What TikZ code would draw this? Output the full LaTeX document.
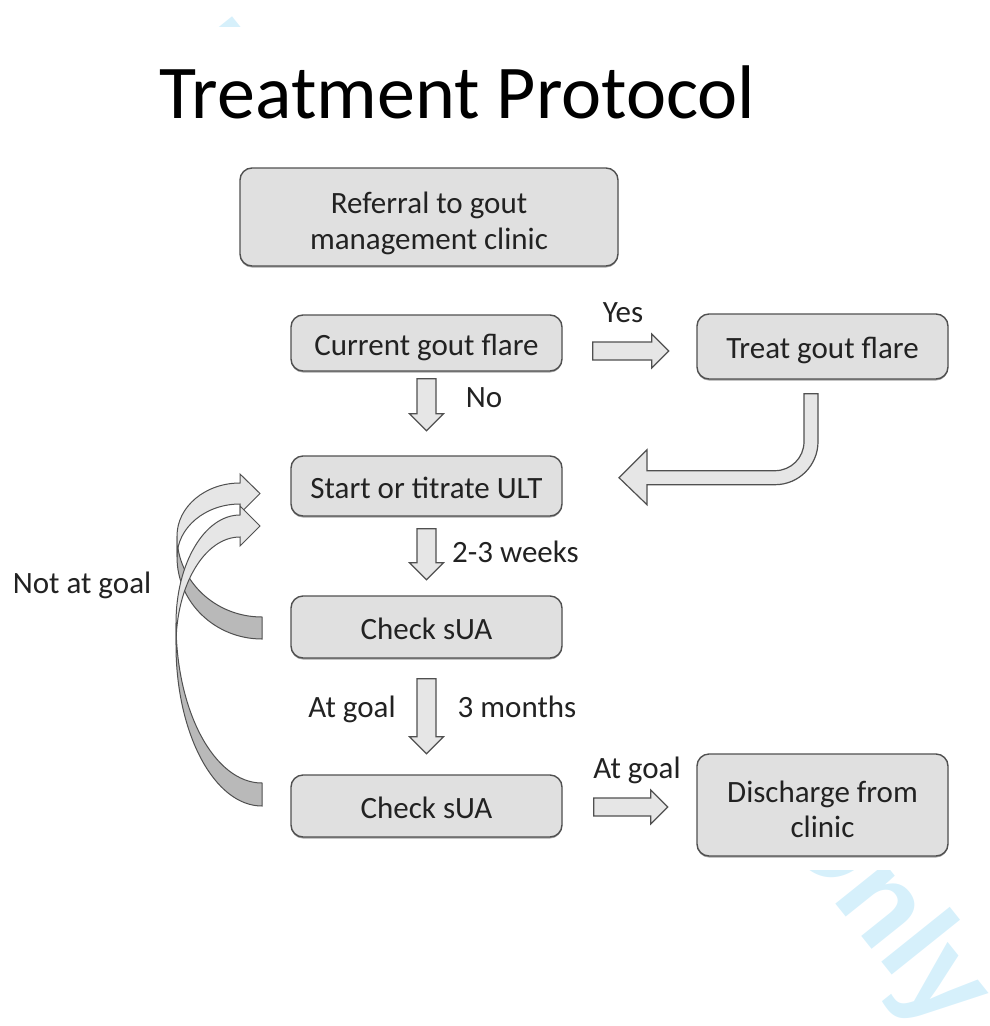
\documentclass[tikz,border=0pt]{standalone}
\usepackage{fontspec}
\setmainfont{Carlito}
\newfontfamily\wmfont{Liberation Sans}
\usetikzlibrary{calc,shadows}

\definecolor{boxfill}{RGB}{224,224,224}
\definecolor{boxline}{RGB}{80,80,80}
\definecolor{txt}{RGB}{34,34,34}
\definecolor{arrfill}{RGB}{230,230,230}
\definecolor{arrback}{RGB}{185,185,185}
\definecolor{wm}{RGB}{214,240,251}

% hollow block arrows: #1 = start point, #2 = total length
\newcommand\downblk[2]{%
  \draw[blk, shift={#1}] (-9.5,0) -- (9.5,0) -- (9.5,#2-17) -- (17,#2-17)
    -- (0,#2) -- (-17,#2-17) -- (-9.5,#2-17) -- cycle;}
\newcommand\rightblk[2]{%
  \draw[blk, shift={#1}] (0,-9) -- (#2-17,-9) -- (#2-17,-17) -- (#2,0)
    -- (#2-17,17) -- (#2-17,9) -- (0,9) -- cycle;}

\begin{document}
\begin{tikzpicture}[x=1pt,y=-1pt,
  stepbox/.style={draw=boxline, fill=boxfill, line width=1.4pt,
    rounded corners=12pt, align=center, text=txt,
    font=\fontsize{31}{37}\selectfont, inner sep=0pt,
    text height=24pt, text depth=0pt,
    drop shadow={shadow xshift=0pt, shadow yshift=-1.5pt, opacity=0.35, fill=black}},
  boxtxt/.style={text=txt, font=\fontsize{31}{37}\selectfont, inner sep=0pt, anchor=base},
  lbl/.style={text=txt, font=\fontsize{31}{37}\selectfont, inner sep=0pt},
  blk/.style={draw=boxline, fill=arrfill, line width=1.2pt, line join=miter},
  front/.style={draw=boxline, fill=arrfill, line width=1pt, line join=miter},
  back/.style={draw=boxline, fill=arrback, line width=1pt},
]
\useasboundingbox (0,0) rectangle (989,1026);

% page watermark, visible only around the figure
\begin{scope}
  \clip (0,0) rectangle (989,1026);
  \node[anchor=base east, rotate=-51.3, text=wm, inner sep=0pt,
        font=\wmfont\bfseries\fontsize{121}{121}\selectfont] (wmark) at (940,1034)
        {For Peer Review Only};
\end{scope}
\fill[white] (0,27) rectangle (989,870);

% title
\node[anchor=base, inner sep=0pt, font=\fontsize{76}{90}\selectfont] (title)
  at (457.5,118) {Treatment Protocol};

% process steps
\node[stepbox, minimum width=378pt, minimum height=98pt] (ref) at (429,217) {};
\node[boxtxt] (refL1) at ($(ref.center)+(0,-4)$) {Referral to gout};
\node[boxtxt] (refL2) at ($(ref.center)+(0,32)$) {management clinic};
\node[stepbox, minimum width=271pt, minimum height=56pt] (flare) at (426.5,343)
  {Current gout flare};
\node[stepbox, minimum width=251pt, minimum height=65pt] (treat) at (822.5,346.5)
  {Treat gout flare};
\node[stepbox, minimum width=271pt, minimum height=60pt] (ult) at (426.5,486)
  {Start or titrate ULT};
\node[stepbox, minimum width=271pt, minimum height=62pt] (chkA) at (426.5,627)
  {Check sUA};
\node[stepbox, minimum width=271pt, minimum height=62pt] (chkB) at (426.5,806)
  {Check sUA};
\node[stepbox, minimum width=251pt, minimum height=102pt] (dis) at (822.5,805) {};
\node[boxtxt] (disL1) at ($(dis.center)+(0,-3)$) {Discharge from};
\node[boxtxt] (disL2) at ($(dis.center)+(0,32)$) {clinic};

% straight block arrows
\rightblk{($(flare.east)+(30,8)$)}{76}
\rightblk{($(chkB.east)+(31,1)$)}{74}
\downblk{($(flare.south)+(0,7)$)}{52}
\downblk{($(ult.south)+(0,12)$)}{51}
\downblk{($(chkA.south)+(0,20)$)}{75}

% bent arrow from the flare treatment back to ULT
\draw[blk, shift={(treat.south)}]
  (-18.5,14) -- (-4.5,14) -- (-4.5,62)
  arc[start angle=0, end angle=90, radius=43] -- (-175.5,105)
  -- (-175.5,125) -- (-203.5,98) -- (-175.5,70) -- (-175.5,91)
  -- (-47.5,91) arc[start angle=90, end angle=0, radius=29] -- cycle;

% curved return arrows (back face first, then front face)
\draw[back] (177,536) arc[start angle=180, end angle=90, x radius=85, y radius=81]
  -- (262,639) arc[start angle=90, end angle=180, x radius=85, y radius=82] -- cycle;
\draw[front] (177,536) arc[start angle=180, end angle=270, x radius=63, y radius=53]
  -- (240,474) -- (260,493.5) -- (240,513.5) -- (240,504)
  arc[start angle=270, end angle=180, x radius=63, y radius=53] -- cycle;

\draw[back] (176,623) arc[start angle=180, end angle=90, x radius=86, y radius=160]
  -- (262,806) arc[start angle=90, end angle=180, x radius=86, y radius=161] -- cycle;
\draw[front] (176,623) arc[start angle=180, end angle=270, x radius=64, y radius=108]
  -- (240,506) -- (260,526) -- (240,546) -- (240,537)
  arc[start angle=270, end angle=180, x radius=64, y radius=108] -- cycle;

% labels
\node[lbl, anchor=base] (yes) at (623,322) {Yes};
\node[lbl, anchor=base] (no) at (484,407) {No};
\node[lbl, anchor=base west] (wk) at (452,562) {2-3 weeks};
\node[lbl, anchor=base] (atgA) at (352,717) {At goal};
\node[lbl, anchor=base] (mon) at (517,717) {3 months};
\node[lbl, anchor=base] (atgB) at (637,778) {At goal};
\node[lbl, anchor=base] (notg) at (82,593) {Not at goal};
\end{tikzpicture}
\end{document}
